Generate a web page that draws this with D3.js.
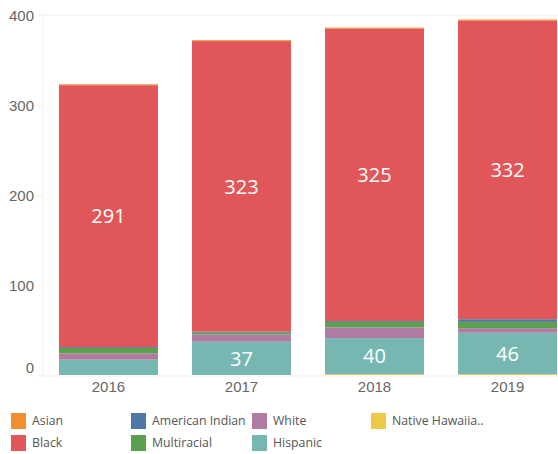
<!DOCTYPE html>
<html>
<head>
<meta charset="utf-8">
<script src="https://cdn.jsdelivr.net/npm/d3@7/dist/d3.min.js"></script>
<style>
  html, body { margin: 0; padding: 0; background: #fff; }
  svg { display: block; font-family: "Open Sans", "DejaVu Sans", sans-serif; }
</style>
</head>
<body>
<svg id="chart" width="558" height="454"></svg>
<script>
// ---- data ----
const years = ["2016", "2017", "2018", "2019"];
const nativeHawaiian = [0, 0, 1, 1];
const hispanic = [17, 37, 40, 46];
const white = [7, 8, 12, 5];
const multiracial = [6, 2, 6, 7];
const americanIndian = [1, 1, 1, 3];
const black = [291, 323, 325, 332];
const asian = [1, 1, 1, 1];
const yTicks = [0, 100, 200, 300, 400];

// stacking order bottom -> top
const seriesNames = ["Native Hawaiian", "Hispanic", "White", "Multiracial", "American Indian", "Black", "Asian"];
const seriesValues = [nativeHawaiian, hispanic, white, multiracial, americanIndian, black, asian];
const colors = {
  "Asian": "#f28e2b", "American Indian": "#4e79a7", "White": "#b07aa1",
  "Native Hawaiian": "#edc948", "Black": "#e15759", "Multiracial": "#59a14f",
  "Hispanic": "#76b7b2"
};
const labelled = ["Black", "Hispanic"];
const minLabel = 25;

// legend layout
const legendItems = [
  { name: "Asian", label: "Asian" },
  { name: "American Indian", label: "American Indian" },
  { name: "White", label: "White" },
  { name: "Native Hawaiian", label: "Native Hawaiia.." },
  { name: "Black", label: "Black" },
  { name: "Multiracial", label: "Multiracial" },
  { name: "Hispanic", label: "Hispanic" }
];

const rows = years.map((y, i) => {
  const r = { year: y };
  seriesNames.forEach((s, k) => r[s] = seriesValues[k][i]);
  return r;
});
const stacked = d3.stack().keys(seriesNames)(rows);

const svg = d3.select("#chart");
const x = d3.scaleBand().domain(years).range([43, 573]).paddingInner(0.256).paddingOuter(0.12);
const y = d3.scaleLinear().domain([0, 400]).range([375, 15]);

// faint frame / grid
const g = svg.append("g");
g.append("line").attr("x1", 43).attr("x2", 558).attr("y1", y(400)).attr("y2", y(400))
  .attr("stroke", "#efefef").attr("stroke-width", 1);
g.append("line").attr("x1", 43).attr("x2", 43).attr("y1", y(400)).attr("y2", y(0))
  .attr("stroke", "#f0f0f0").attr("stroke-width", 1);
g.append("line").attr("x1", 38).attr("x2", 558).attr("y1", y(0) + 1).attr("y2", y(0) + 1)
  .attr("stroke", "#f0f0f0").attr("stroke-width", 1);

// y axis
const yAxis = d3.axisLeft(y).tickValues(yTicks).tickSize(5).tickPadding(4);
const ya = svg.append("g").attr("transform", "translate(43,0)").call(yAxis);
ya.select(".domain").remove();
ya.selectAll(".tick line").attr("stroke", "#f0f0f0");
ya.selectAll(".tick text").attr("fill", "#666").style("font-size", "15px")
  .attr("dy", d => d === 0 ? "-0.2em" : "0.35em");

// bars
svg.append("g").selectAll("g").data(stacked).join("g")
  .attr("fill", d => colors[d.key])
  .selectAll("rect").data(d => d).join("rect")
  .attr("x", d => x(d.data.year))
  .attr("width", x.bandwidth())
  .attr("y", d => y(d[1]))
  .attr("height", d => Math.max(0, y(d[0]) - y(d[1])));

// value labels
stacked.filter(s => labelled.includes(s.key)).forEach(s => {
  svg.append("g").selectAll("text").data(s.filter(d => d[1] - d[0] >= minLabel)).join("text")
    .attr("x", d => x(d.data.year) + x.bandwidth() / 2)
    .attr("y", d => (y(d[0]) + y(d[1])) / 2)
    .attr("dy", "0.36em")
    .attr("text-anchor", "middle")
    .attr("fill", "#fff")
    .style("font-size", "20px")
    .text(d => d[1] - d[0]);
});

// x axis
const xAxis = d3.axisBottom(x).tickSize(0).tickPadding(0);
const xa = svg.append("g").attr("transform", "translate(0,380)").call(xAxis);
xa.select(".domain").remove();
xa.selectAll(".tick text").attr("fill", "#666").style("font-size", "15px").attr("dy", "0.8em");

// legend
const colX = [11, 131, 252, 371];
const rowY = [413, 435];
const leg = svg.append("g").selectAll("g").data(legendItems).join("g")
  .attr("transform", (d, i) => {
    const r = i < 4 ? 0 : 1;
    const c = i < 4 ? i : i - 4;
    return `translate(${colX[c]},${rowY[r]})`;
  });
leg.append("rect").attr("width", 15).attr("height", 16).attr("fill", d => colors[d.name]);
leg.append("text").attr("x", 21).attr("y", 8).attr("dy", "0.35em")
  .attr("fill", "#555").style("font-size", "12.3px").text(d => d.label);
</script>
</body>
</html>
